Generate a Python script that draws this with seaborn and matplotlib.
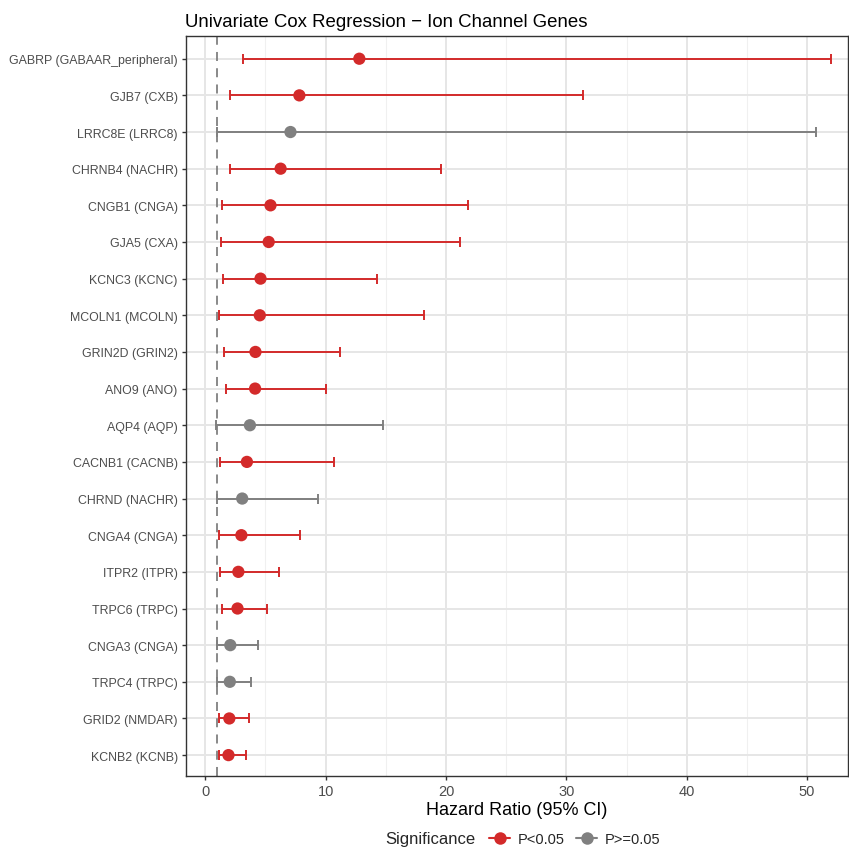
import matplotlib
matplotlib.use("Agg")
import matplotlib.pyplot as plt
from matplotlib.lines import Line2D
import numpy as np
import pandas as pd
import seaborn as sns

# Univariate Cox results for ion channel genes
genes = [
    "GABRP (GABAAR_peripheral)", "GJB7 (CXB)", "LRRC8E (LRRC8)", "CHRNB4 (NACHR)",
    "CNGB1 (CNGA)", "GJA5 (CXA)", "KCNC3 (KCNC)", "MCOLN1 (MCOLN)", "GRIN2D (GRIN2)",
    "ANO9 (ANO)", "AQP4 (AQP)", "CACNB1 (CACNB)", "CHRND (NACHR)", "CNGA4 (CNGA)",
    "ITPR2 (ITPR)", "TRPC6 (TRPC)", "CNGA3 (CNGA)", "TRPC4 (TRPC)", "GRID2 (NMDAR)",
    "KCNB2 (KCNB)",
]
hr = [12.8, 7.82, 7.08, 6.26, 5.42, 5.27, 4.59, 4.53, 4.17, 4.14,
      3.71, 3.46, 3.07, 3.00, 2.75, 2.68, 2.08, 2.04, 2.00, 1.93]
ci_low = [3.17, 2.04, 0.96, 2.08, 1.37, 1.33, 1.51, 1.15, 1.58, 1.72,
          0.93, 1.19, 0.95, 1.15, 1.22, 1.40, 0.97, 0.98, 1.12, 1.15]
ci_high = [52.0, 31.4, 50.7, 19.6, 21.8, 21.2, 14.3, 18.2, 11.16, 9.99,
           14.8, 10.7, 9.39, 7.9, 6.12, 5.17, 4.35, 3.81, 3.67, 3.42]
significance = ["P<0.05", "P<0.05", "P>=0.05", "P<0.05", "P<0.05", "P<0.05", "P<0.05",
                "P<0.05", "P<0.05", "P<0.05", "P>=0.05", "P<0.05", "P>=0.05", "P<0.05",
                "P<0.05", "P<0.05", "P>=0.05", "P>=0.05", "P<0.05", "P<0.05"]
x_ticks = [0, 10, 20, 30, 40, 50]

palette = {"P<0.05": "#D32A2A", "P>=0.05": "#808080"}

df = pd.DataFrame({"gene": genes, "hr": hr, "lo": ci_low, "hi": ci_high,
                   "sig": significance})
df["pos"] = np.arange(len(df))

sns.set_theme(style="white")
plt.rcParams["font.family"] = ["Liberation Sans", "DejaVu Sans"]

fig = plt.figure(figsize=(8.49, 8.53), dpi=100)
ax = fig.add_axes([186 / 849, 1 - 777 / 853, (848 - 186) / 849, (777 - 37) / 853])

# grid
ax.set_axisbelow(True)
for v in np.arange(5, 55, 10):
    ax.axvline(v, color="#F0F0F0", lw=0.8, zorder=0)
for v in x_ticks:
    ax.axvline(v, color="#E6E6E6", lw=1.4, zorder=0)
for p in df["pos"]:
    ax.axhline(p, color="#E6E6E6", lw=1.4, zorder=0)

# reference line at HR = 1
ax.axvline(1, color="#808080", lw=1.3, ls=(0, (5, 4)), zorder=1)

# confidence intervals
for sig, sub in df.groupby("sig"):
    ax.errorbar(x=sub["hr"], y=sub["pos"],
                xerr=[sub["hr"] - sub["lo"], sub["hi"] - sub["hr"]],
                fmt="none", ecolor=palette[sig], elinewidth=1.4,
                capsize=3.4, capthick=1.4, zorder=2)

sns.scatterplot(data=df, x="hr", y="pos", hue="sig", palette=palette,
                s=78, edgecolor="none", legend=False, ax=ax, zorder=3)

ax.set_xlim(-1.6, 53.4)
ax.set_ylim(len(df) - 0.43, -0.62)
ax.set_xticks(x_ticks)
ax.set_xticklabels([str(t) for t in x_ticks], fontsize=10.5, color="#4D4D4D")
ax.set_yticks(df["pos"])
ax.set_yticklabels(df["gene"], fontsize=8.9, color="#4D4D4D")
ax.tick_params(axis="both", length=3, width=1, color="#333333", pad=3,
               bottom=True, left=True)
for s in ax.spines.values():
    s.set_color("#333333")
    s.set_linewidth(1.0)

ax.set_xlabel("Hazard Ratio (95% CI)", fontsize=13, color="black", labelpad=2)
ax.set_ylabel("")
ax.set_title("Univariate Cox Regression \u2212 Ion Channel Genes", fontsize=13.4,
             loc="left", x=-0.002, pad=7, color="black")

# legend
leg_y = 1 - 840 / 853
handles = [Line2D([0], [0], color=palette[k], marker="o", markersize=9,
                  lw=1.5, markeredgecolor="none") for k in ["P<0.05", "P>=0.05"]]
fig.text(475 / 849, leg_y, "Significance", fontsize=12, ha="right",
         va="center")
fig.legend(handles, ["P<0.05", "P>=0.05"], loc="center left",
           bbox_to_anchor=(489 / 849, leg_y), ncol=2, frameon=False,
           fontsize=10.5, handlelength=1.45, handletextpad=0.5,
           columnspacing=0.8, borderaxespad=0, borderpad=0)

fig.savefig("out.png", dpi=100)
